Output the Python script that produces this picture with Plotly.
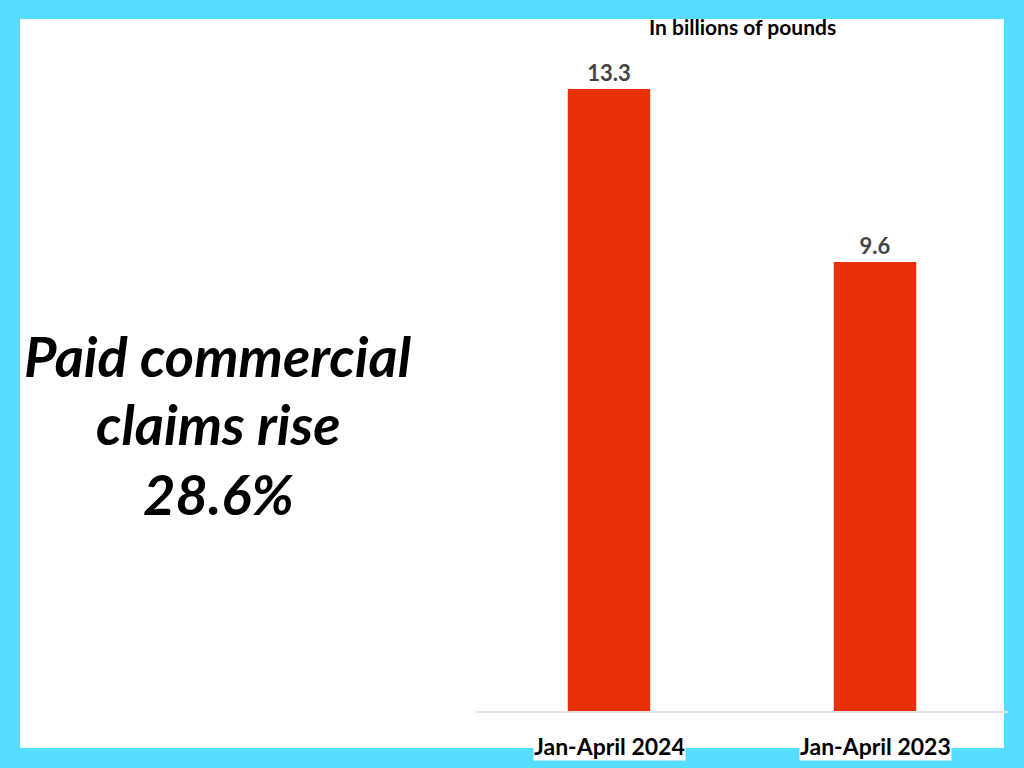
import plotly.graph_objects as go

categories = ["Jan-April 2024", "Jan-April 2023"]
values = [13.3, 9.6]
value_labels = ["13.3", "9.6"]
headline_lines = ["Paid commercial", "claims rise", "28.6%"]
unit_note = "In billions of pounds"

W, H = 1024, 768
L, R, T, B = 476, 16, 20, 57
pw, ph = W - L - R, H - T - B

def px_x(px):
    return (px - L) / pw

def px_y(py):
    return (H - B - py) / ph

fig = go.Figure()
fig.add_trace(go.Bar(
    x=categories, y=values,
    marker=dict(color="#E8300A", line=dict(width=0)),
    width=0.31,
    text=["<b>%s</b>" % t for t in value_labels], textposition="outside",
    textfont=dict(family="Lato", size=22, color="#444444"),
    cliponaxis=False,
))

shapes = [dict(type="rect", xref="paper", yref="paper",
               x0=px_x(20), x1=px_x(1004), y0=px_y(748), y1=px_y(19),
               fillcolor="white", line=dict(width=0), layer="below")]

annotations = []
for cat in categories:
    annotations.append(dict(x=cat, xref="x", y=px_y(746), yref="paper",
                            text="<b>%s</b>" % cat, showarrow=False,
                            font=dict(family="Lato", size=23, color="black"),
                            bgcolor="white", borderpad=0,
                            xanchor="center", yanchor="middle"))
annotations.append(dict(x=px_x(742), xref="paper", y=px_y(26), yref="paper",
                        text="<b>%s</b>" % unit_note, showarrow=False,
                        font=dict(family="Lato", size=21, color="black"),
                        xanchor="center", yanchor="middle"))
for line, py in zip(headline_lines, [355, 424, 493]):
    annotations.append(dict(x=px_x(218), xref="paper", y=px_y(py), yref="paper",
                            text="<b><i>%s</i></b>" % line, showarrow=False,
                            font=dict(family="Lato", size=56, color="black"),
                            xanchor="center", yanchor="middle"))

fig.update_layout(
    width=W, height=H,
    margin=dict(l=L, r=R, t=T, b=B),
    paper_bgcolor="#55DDFF", plot_bgcolor="rgba(0,0,0,0)",
    showlegend=False, shapes=shapes, annotations=annotations,
)
fig.update_xaxes(range=[-0.5, 1.5], showticklabels=False, ticks="",
                 showline=True, linecolor="#e3e3e3", linewidth=1.5,
                 showgrid=False, zeroline=False)
fig.update_yaxes(range=[0, ph / ((711 - 89) / 13.3)], visible=False,
                 showgrid=False, zeroline=False)

fig.write_html("out.html",
               config={"displayModeBar": False},
               post_script="document.body.style.margin='0';"
                           "document.body.style.background='#55DDFF';")
